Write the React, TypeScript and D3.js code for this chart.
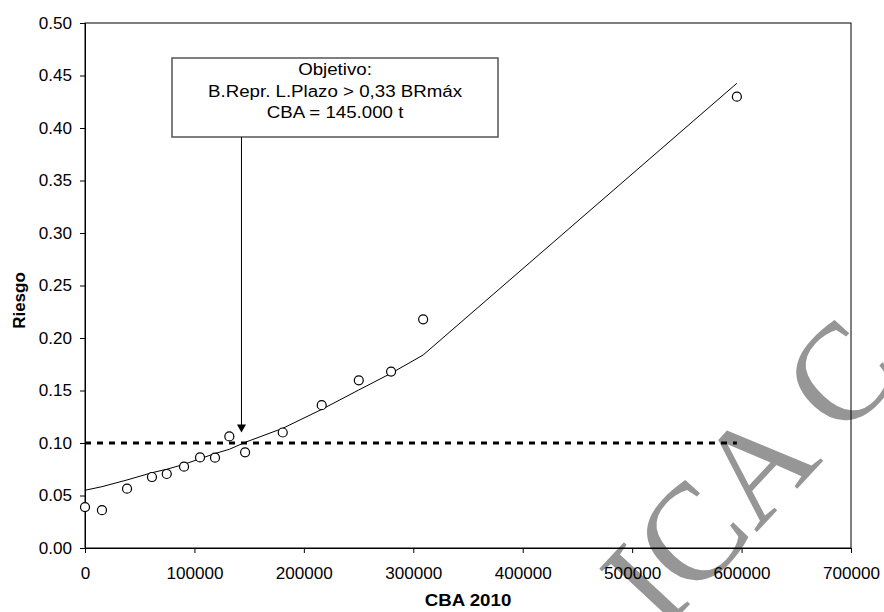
import React, { useEffect, useRef } from 'react';
import * as d3 from 'd3';

// CBA 2010 (t) for each evaluated point
const cbaValues = [0, 15500, 38400, 61200, 74700, 90500, 105100, 118800, 131900, 146300, 180700, 216300, 250200, 279700, 309000, 595700];
// observed risk (circles)
const riskObserved = [0.039, 0.036, 0.0565, 0.0676, 0.0705, 0.0775, 0.0863, 0.086, 0.1063, 0.0911, 0.110, 0.136, 0.1597, 0.168, 0.2178, 0.4298];
// fitted risk (line)
const riskFitted = [0.055, 0.0584, 0.0648, 0.0717, 0.075, 0.0797, 0.085, 0.090, 0.094, 0.1006, 0.114, 0.132, 0.1505, 0.1664, 0.1838, 0.4426];

const xTicks = [0, 100000, 200000, 300000, 400000, 500000, 600000, 700000];
const yTicks = [0, 0.05, 0.1, 0.15, 0.2, 0.25, 0.3, 0.35, 0.4, 0.45, 0.5];

const targetRisk = 0.1;
const targetCba = 143000;
const arrowTipRisk = 0.11;
const noteLines = ['Objetivo:', 'B.Repr. L.Plazo > 0,33 BRmáx', 'CBA  = 145.000 t'];
const watermarkText = 'ICA C';

const App = () => {
  const ref = useRef<SVGSVGElement>(null);

  useEffect(() => {
    const width = 884;
    const height = 612;
    const margin = { top: 23, right: 33, bottom: 64, left: 85 };
    const w = width - margin.left - margin.right;
    const h = height - margin.top - margin.bottom;
    const font = '"Liberation Sans", Arial, sans-serif';

    const root = d3.select(ref.current);
    root.selectAll('*').remove();

    // marca de agua (debajo de todo)
    root.append('text')
      .attr('transform', 'translate(662,634) rotate(-47)')
      .attr('font-family', '"Liberation Serif", "Times New Roman", serif')
      .attr('font-size', 138)
      .attr('fill', '#969696')
      .text(watermarkText);

    const svg = root.append('g')
      .attr('transform', `translate(${margin.left},${margin.top})`);

    const x = d3.scaleLinear().domain([0, 700000]).range([0, w]);
    const y = d3.scaleLinear().domain([0, 0.5]).range([h, 0]);

    // marco del área de trazado
    svg.append('rect')
      .attr('width', w)
      .attr('height', h)
      .attr('fill', 'none')
      .attr('stroke', '#000')
      .attr('stroke-width', 1);

    const xAxis = svg.append('g')
      .attr('transform', `translate(0,${h})`)
      .call(d3.axisBottom(x).tickValues(xTicks).tickFormat(d3.format('d')).tickSizeOuter(0).tickSize(5).tickPadding(15));
    const yAxis = svg.append('g')
      .call(d3.axisLeft(y).tickValues(yTicks).tickFormat(d3.format('.2f')).tickSizeOuter(0).tickSize(5).tickPadding(8));

    [xAxis, yAxis].forEach(a => {
      a.select('.domain').attr('stroke', '#000');
      a.selectAll('.tick line').attr('stroke', '#000');
      a.selectAll('.tick text')
        .attr('font-family', font)
        .attr('font-size', 16)
        .attr('fill', '#000');
    });
    // el original está algo estirado en horizontal
    xAxis.selectAll('.tick text').attr('transform', 'scale(1.07,1)');
    yAxis.selectAll('.tick text').attr('transform', 'translate(-13,0) scale(1.07,1) translate(13,0)');

    // línea objetivo 0.10
    svg.append('line')
      .attr('x1', x(0))
      .attr('x2', x(d3.max(cbaValues) as number))
      .attr('y1', y(targetRisk))
      .attr('y2', y(targetRisk))
      .attr('stroke', '#000')
      .attr('stroke-width', 3)
      .attr('stroke-dasharray', '6,6');

    // curva ajustada
    const line = d3.line<number>()
      .x((d, i) => x(cbaValues[i]))
      .y(d => y(d));
    svg.append('path')
      .datum(riskFitted)
      .attr('d', line)
      .attr('fill', 'none')
      .attr('stroke', '#000')
      .attr('stroke-width', 1);

    // puntos observados
    svg.selectAll('.dot')
      .data(riskObserved)
      .enter()
      .append('circle')
      .attr('class', 'dot')
      .attr('cx', (d, i) => x(cbaValues[i]))
      .attr('cy', d => y(d))
      .attr('r', 4.5)
      .attr('fill', '#fff')
      .attr('stroke', '#000')
      .attr('stroke-width', 1.2);

    // cuadro de texto
    const box = { x: 87, y: 35, w: 326, h: 79 };
    svg.append('rect')
      .attr('x', box.x)
      .attr('y', box.y)
      .attr('width', box.w)
      .attr('height', box.h)
      .attr('fill', '#fff')
      .attr('stroke', '#555')
      .attr('stroke-width', 1.5);

    const cx = box.x + box.w / 2;
    svg.selectAll('.note')
      .data(noteLines)
      .enter()
      .append('text')
      .attr('class', 'note')
      .attr('transform', (d, i) => `translate(${cx},${box.y + 17 + i * 21.7}) scale(1.1,1)`)
      .attr('text-anchor', 'middle')
      .attr('font-family', font)
      .attr('font-size', 17)
      .text(d => d);

    // flecha
    const ax = x(targetCba);
    const tip = y(arrowTipRisk);
    svg.append('line')
      .attr('x1', ax)
      .attr('x2', ax)
      .attr('y1', box.y + box.h)
      .attr('y2', tip - 7)
      .attr('stroke', '#000')
      .attr('stroke-width', 1);
    svg.append('path')
      .attr('d', `M${ax - 4.5},${tip - 8}L${ax + 4.5},${tip - 8}L${ax},${tip}Z`)
      .attr('fill', '#000');

    // títulos de ejes
    svg.append('text')
      .attr('transform', `translate(${w / 2},${h + 58}) scale(1.1,1)`)
      .attr('text-anchor', 'middle')
      .attr('font-family', font)
      .attr('font-size', 17)
      .attr('font-weight', 'bold')
      .text('CBA 2010');

    svg.append('text')
      .attr('transform', `translate(${-60},${h / 2 + 15}) rotate(-90)`)
      .attr('text-anchor', 'middle')
      .attr('font-family', font)
      .attr('font-size', 17)
      .attr('font-weight', 'bold')
      .text('Riesgo');
  }, []);

  return (
    <svg ref={ref} width={884} height={612} style={{ position: 'absolute', left: 0, top: 0, background: '#fff' }} />
  );
};

export default App;
